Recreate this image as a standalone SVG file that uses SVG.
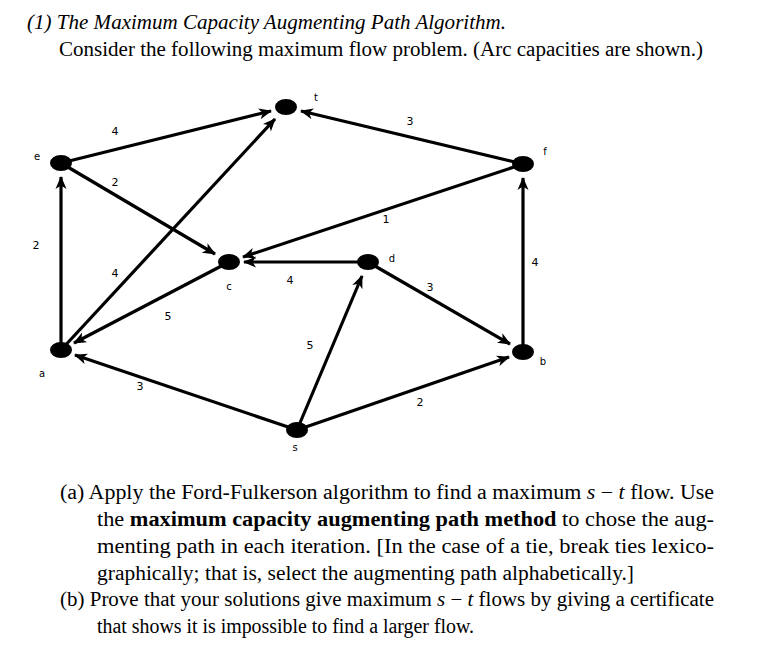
<svg xmlns="http://www.w3.org/2000/svg" width="762" height="652" viewBox="0 0 762 652">
<style>
.e{stroke:#000;stroke-width:3.2;fill:none;marker-end:url(#ah)}
.n{fill:#000}
.nl{font-family:"DejaVu Sans",sans-serif;font-size:10px;fill:#000;text-anchor:middle}
.w{font-family:"DejaVu Sans",sans-serif;font-size:11px;fill:#000;text-anchor:middle}
.t{font-family:"Liberation Serif",serif;font-size:20px;fill:#000}
.i{font-style:italic}
</style>
<defs>
<marker id="ah" markerUnits="userSpaceOnUse" markerWidth="14" markerHeight="12" refX="12" refY="6" orient="auto">
<path d="M0,0.5 L13,6 L0,11.5 L3.5,6 Z" fill="#000"/>
</marker>
</defs>
<rect width="762" height="652" fill="#fff"/>
<text class="t i" x="27" y="29" textLength="479" lengthAdjust="spacingAndGlyphs">(1) The Maximum Capacity Augmenting Path Algorithm.</text>
<text class="t" x="59" y="56" textLength="644" lengthAdjust="spacingAndGlyphs">Consider the following maximum flow problem. (Arc capacities are shown.)</text>
<g id="connectors">
<line class="e" x1="61" y1="163" x2="271" y2="111"/>
<line class="e" x1="523" y1="164" x2="301" y2="111"/>
<line class="e" x1="61" y1="350" x2="275" y2="119"/>
<line class="e" x1="61" y1="163" x2="215" y2="254"/>
<line class="e" x1="523" y1="164" x2="243" y2="257"/>
<line class="e" x1="368" y1="262" x2="244" y2="262"/>
<line class="e" x1="229" y1="262" x2="74" y2="343"/>
<line class="e" x1="61" y1="350" x2="61" y2="177"/>
<line class="e" x1="297" y1="430" x2="75" y2="355"/>
<line class="e" x1="297" y1="430" x2="362" y2="276"/>
<line class="e" x1="368" y1="262" x2="510" y2="344"/>
<line class="e" x1="297" y1="430" x2="509" y2="357"/>
<line class="e" x1="523" y1="352" x2="523" y2="178"/>
<text class="w" x="115" y="135">4</text>
<text class="w" x="410" y="125">3</text>
<text class="w" x="115" y="277">4</text>
<text class="w" x="115" y="186">2</text>
<text class="w" x="386" y="223">1</text>
<text class="w" x="290" y="284">4</text>
<text class="w" x="168" y="320">5</text>
<text class="w" x="36" y="249">2</text>
<text class="w" x="140" y="390">3</text>
<text class="w" x="310" y="349">5</text>
<text class="w" x="430" y="291">3</text>
<text class="w" x="420" y="406">2</text>
<text class="w" x="535" y="266">4</text>
</g>
<g id="t"><ellipse class="n" cx="286" cy="107" rx="11" ry="8"/><text class="nl" x="316" y="101">t</text></g>
<g id="e"><ellipse class="n" cx="61" cy="163" rx="11" ry="8"/><text class="nl" x="37" y="160">e</text></g>
<g id="f"><ellipse class="n" cx="523" cy="164" rx="11" ry="8"/><text class="nl" x="545" y="155">f</text></g>
<g id="c"><ellipse class="n" cx="229" cy="262" rx="11" ry="8"/><text class="nl" x="229" y="290">c</text></g>
<g id="d"><ellipse class="n" cx="368" cy="262" rx="11" ry="8"/><text class="nl" x="392" y="262">d</text></g>
<g id="a"><ellipse class="n" cx="61" cy="350" rx="11" ry="8"/><text class="nl" x="42" y="377">a</text></g>
<g id="b"><ellipse class="n" cx="523" cy="352" rx="11" ry="8"/><text class="nl" x="543" y="365">b</text></g>
<g id="s"><ellipse class="n" cx="297" cy="430" rx="11" ry="8"/><text class="nl" x="295" y="451">s</text></g>
<text class="t" x="60" y="499" textLength="654" lengthAdjust="spacingAndGlyphs">(a) Apply the Ford-Fulkerson algorithm to find a maximum <tspan class="i">s</tspan> − <tspan class="i">t</tspan> flow. Use</text>
<text class="t" x="97" y="526" textLength="617" lengthAdjust="spacingAndGlyphs">the <tspan font-weight="bold">maximum capacity augmenting path method</tspan> to chose the aug-</text>
<text class="t" x="97" y="553" textLength="617" lengthAdjust="spacingAndGlyphs">menting path in each iteration. [In the case of a tie, break ties lexico-</text>
<text class="t" x="97" y="580" textLength="537" lengthAdjust="spacingAndGlyphs">graphically; that is, select the augmenting path alphabetically.]</text>
<text class="t" x="60" y="606" textLength="654" lengthAdjust="spacingAndGlyphs">(b) Prove that your solutions give maximum <tspan class="i">s</tspan> − <tspan class="i">t</tspan> flows by giving a certificate</text>
<text class="t" x="97" y="633" textLength="377" lengthAdjust="spacingAndGlyphs">that shows it is impossible to find a larger flow.</text>
</svg>
